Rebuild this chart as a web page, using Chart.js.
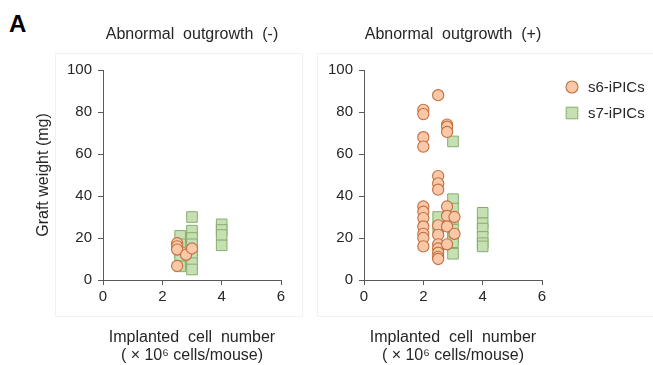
<!DOCTYPE html>
<html>
<head>
<meta charset="utf-8">
<script src="https://cdn.jsdelivr.net/npm/chart.js@4.4.1/dist/chart.umd.min.js"></script>
<style>
  body { margin: 0; background: #fff; font-family: "Liberation Sans", Arial, sans-serif; }
  #wrap { position: relative; width: 653px; height: 365px; overflow: hidden; }
  .panel { position: absolute; top: 0; height: 365px; }
  #leftPanel { left: 0; width: 300px; }
  #rightPanel { left: 300px; width: 353px; }
  .frame { position: absolute; border: 1px solid #f1f1f1; }
  #label { position: absolute; left: 9px; top: 12px; font: bold 24px/24px "Liberation Sans", Arial, sans-serif; color: #000; }
</style>
</head>
<body>
<div id="wrap">
  <div class="frame" style="left:55px; top:53px; width:246px; height:262px;"></div>
  <div class="frame" style="left:317px; top:53px; width:400px; height:262px; border-right:none;"></div>
  <div id="label">A</div>
  <div class="panel" id="leftPanel"><canvas id="leftChart" width="300" height="365"></canvas></div>
  <div class="panel" id="rightPanel"><canvas id="rightChart" width="353" height="365"></canvas></div>
</div>
<script>
// graft weight (mg) vs implanted cells (x10^6), split by abnormal outgrowth
const xTicks = [0, 2, 4, 6];
const yTicks = [0, 20, 40, 60, 80, 100];

// outgrowth (-)
const s6NegX = [2.5, 2.5, 2.5, 2.8, 3.0, 2.5];
const s6NegY = [17.5, 16, 14.5, 12, 15, 6.7];
const s7NegX = [2.6, 2.6, 2.6, 2.6, 2.6, 3, 3, 3, 3, 3, 3, 3, 3, 4, 4, 4, 4];
const s7NegY = [21, 17, 13, 10, 6.5, 30, 23.5, 20, 17, 14, 11, 8, 5, 26.5, 23.8, 21.4, 16.5];

// outgrowth (+)
const s6PosX = [2, 2, 2, 2, 2, 2, 2, 2, 2, 2, 2,
  2.5, 2.5, 2.5, 2.5, 2.5, 2.5, 2.5, 2.5, 2.5, 2.5, 2.5,
  2.8, 2.8, 2.8, 2.8, 2.8, 2.8, 2.8, 3.05, 3.05];
const s6PosY = [81, 79, 68, 63.5, 35, 32.5, 29.5, 25.5, 22, 20, 16,
  88, 49.5, 46, 43, 26, 21.5, 17, 15, 13, 11, 10,
  74, 73, 70.5, 35, 30.5, 25.5, 17, 30, 22];
const s7PosX = [2.5, 2.5, 3, 3, 3, 3, 3, 3, 3, 3, 4, 4, 4, 4, 4, 4];
const s7PosY = [30, 25, 66, 38.5, 34, 29, 24, 20, 18, 12.5, 32, 27, 24.5, 20.5, 17.5, 16];

const seriesNames = ['s6-iPICs', 's7-iPICs'];
const titles = ['Abnormal  outgrowth  (-)', 'Abnormal  outgrowth  (+)'];

const FONT = '"Liberation Sans", Arial, sans-serif';
const AXIS = '#595959';
const TEXT = '#262626';

Chart.defaults.font.family = FONT;
Chart.defaults.color = TEXT;

function points(xs, ys) {
  return xs.map((x, i) => ({ x, y: ys[i] }));
}

function makeDatasets(s6x, s6y, s7x, s7y) {
  return [
    {
      label: seriesNames[0],
      data: points(s6x, s6y),
      pointStyle: 'circle',
      pointRadius: 5.6,
      pointHoverRadius: 5.6,
      backgroundColor: '#f8c8a8',
      borderColor: '#c3703f',
      borderWidth: 1.1
    },
    {
      label: seriesNames[1],
      data: points(s7x, s7y),
      pointStyle: 'rect',
      pointRadius: 7.5,
      pointHoverRadius: 7.5,
      backgroundColor: '#c6e0b4',
      borderColor: '#86ad6c',
      borderWidth: 1
    }
  ];
}

// the built-in legend gets squeezed by the layout, so draw a small one beside the plot
const sideLegend = {
  id: 'sideLegend',
  afterDraw(chart) {
    const { ctx, chartArea } = chart;
    const markerX = chartArea.right + 30;
    const textX = chartArea.right + 46;
    ctx.save();
    ctx.font = '15px ' + FONT;
    ctx.textBaseline = 'middle';
    ctx.fillStyle = TEXT;
    chart.data.datasets.forEach((ds, i) => {
      const y = chartArea.top + 17 + i * 26;
      ctx.fillStyle = ds.backgroundColor;
      ctx.strokeStyle = ds.borderColor;
      ctx.lineWidth = ds.borderWidth;
      Chart.helpers.drawPoint(ctx, {
        pointStyle: ds.pointStyle,
        radius: ds.pointStyle === 'rect' ? 8.2 : 6,
        borderWidth: ds.borderWidth
      }, markerX, y);
      ctx.fillStyle = TEXT;
      ctx.fillText(ds.label, textX, y + 1);
    });
    ctx.restore();
  }
};

function makeOptions(opts) {
  return {
    responsive: false,
    animation: false,
    events: [],
    layout: { padding: { left: 0, right: opts.padRight, top: 0, bottom: 0 } },
    plugins: {
      tooltip: { enabled: false },
      legend: { display: false },
      title: {
        display: true,
        fullSize: false,
        text: opts.title,
        color: TEXT,
        font: { size: 16, weight: 'normal' },
        padding: { top: 25.4, bottom: 25.4 }
      }
    },
    scales: {
      x: {
        type: 'linear',
        min: 0, max: 6,
        afterBuildTicks: s => { s.ticks = xTicks.map(v => ({ value: v })); },
        afterFit: s => { s.height = 85; },
        border: { display: true, color: AXIS, width: 1 },
        grid: { display: true, drawOnChartArea: false, drawTicks: true, tickLength: 5, color: AXIS },
        ticks: { font: { size: 15 }, color: TEXT, padding: 3 },
        title: {
          display: true,
          text: ['Implanted  cell  number', '( \u00d7 10\u2076 cells/mouse)'],
          color: TEXT,
          font: { size: 16, lineHeight: 1.125 },
          padding: { top: 0, bottom: 0 }
        }
      },
      y: {
        type: 'linear',
        min: 0, max: 100,
        afterBuildTicks: s => { s.ticks = yTicks.map(v => ({ value: v })); },
        afterFit: s => { s.width = opts.yWidth; },
        border: { display: true, color: AXIS, width: 1 },
        grid: { display: true, drawOnChartArea: false, drawTicks: true, tickLength: 5, color: AXIS },
        ticks: { font: { size: 15 }, color: TEXT, padding: 6 },
        title: {
          display: opts.yTitle,
          text: 'Graft weight (mg)',
          color: TEXT,
          font: { size: 16 },
          padding: { top: 34, bottom: 0 }
        }
      }
    }
  };
}

new Chart(document.getElementById('leftChart'), {
  type: 'scatter',
  data: { datasets: makeDatasets(s6NegX, s6NegY, s7NegX, s7NegY) },
  options: makeOptions({ title: titles[0], padRight: 19, yWidth: 103, yTitle: true })
});

new Chart(document.getElementById('rightChart'), {
  type: 'scatter',
  data: { datasets: makeDatasets(s6PosX, s6PosY, s7PosX, s7PosY) },
  options: makeOptions({ title: titles[1], padRight: 111, yWidth: 64, yTitle: false }),
  plugins: [sideLegend]
});
</script>
</body>
</html>
